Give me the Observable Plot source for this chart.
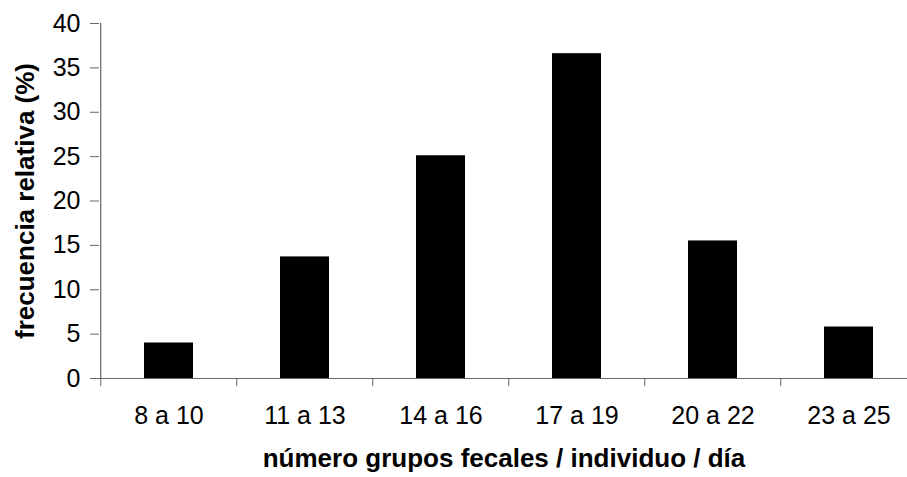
<!DOCTYPE html>
<html><head><meta charset="utf-8">
<script src="https://cdn.jsdelivr.net/npm/d3@7"></script>
<script src="https://cdn.jsdelivr.net/npm/@observablehq/plot@0.6"></script>
<style>body{margin:0;background:#fff}</style>
</head><body><div id="chart"></div>
<script>
const categories = ["8 a 10","11 a 13","14 a 16","17 a 19","20 a 22","23 a 25"];
const values = [4.0, 13.7, 25.1, 36.6, 15.5, 5.8];
const yTicks = [0,5,10,15,20,25,30,35,40];
const xTitle = "número grupos fecales / individuo / día";
const yTitle = "frecuencia relativa (%)";
const data = categories.map((c,i)=>({cat:c, value: values[i]}));

const W=907, H=477, mL=99, mR=-11, mT=23, mB=99;
const step = (W - mR - mL) / categories.length;
const font = "'Liberation Sans', Arial, sans-serif";
const axisColor = "#666";

const plot = Plot.plot({
  width: W, height: H,
  marginLeft: mL, marginRight: mR, marginTop: mT, marginBottom: mB,
  style: {fontFamily: font, background: "#fff", fontSize: "25px", color: "#000"},
  x: {domain: categories, paddingInner: 0.64, paddingOuter: 0.32},
  y: {domain: [0, 40]},
  marks: [
    Plot.barY(data, {x: "cat", y: "value", fill: "#000"}),
    Plot.ruleY([0], {stroke: axisColor, strokeWidth: 1.2}),
    Plot.ruleX([categories[0]], {dx: -step/2, y1: 0, y2: 40, stroke: axisColor, strokeWidth: 1.2}),
    Plot.axisY({ticks: yTicks, tickSize: 9, tickPadding: 10, fontSize: 25, stroke: axisColor, fill: "#000", label: null}),
    Plot.axisX({tickSize: 8, dx: -step/2, tickFormat: () => "", stroke: axisColor, label: null}),
    Plot.axisX({tickSize: 0, tickPadding: 28, fontSize: 25, fill: "#000", label: null}),
    Plot.text([xTitle], {frameAnchor: "bottom", dy: 88, dx: -5, lineAnchor: "bottom", textAnchor: "middle", fontSize: 26, fontWeight: "bold", fill: "#000"}),
    Plot.text([yTitle], {frameAnchor: "left", dx: -66, rotate: -90, lineAnchor: "bottom", textAnchor: "middle", fontSize: 26, fontWeight: "bold", fill: "#000"})
  ]
});
document.getElementById("chart").appendChild(plot);
</script>
</body></html>
